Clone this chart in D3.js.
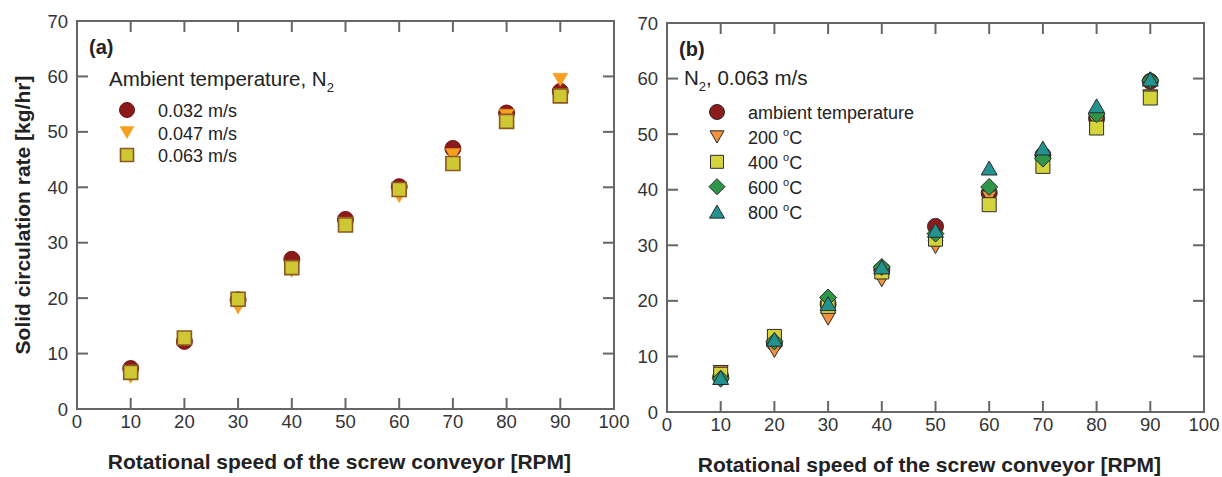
<!DOCTYPE html>
<html>
<head>
<meta charset="utf-8">
<script src="https://cdn.jsdelivr.net/npm/d3@7"></script>
<style>
  body { margin: 0; background: #fff; }
  svg text { font-family: "Liberation Sans", Arial, Helvetica, sans-serif; fill: #333; }
</style>
</head>
<body>
<div id="vis"></div>
<script>
var W = 1222, H = 477;

// data
var rpm = [10, 20, 30, 40, 50, 60, 70, 80, 90];
var xTicks = [0, 10, 20, 30, 40, 50, 60, 70, 80, 90, 100];
var yTicks = [0, 10, 20, 30, 40, 50, 60, 70];

// (a) ambient temperature, N2
var aLabels = ["0.032 m/s", "0.047 m/s", "0.063 m/s"];
var a032 = [7.3, 12.2, 19.7, 27.0, 34.2, 40.1, 47.0, 53.4, 57.3];
var a047 = [5.8, 12.6, 18.3, 24.9, 33.4, 38.4, 45.8, 52.9, 59.4];
var a063 = [6.6, 12.8, 19.8, 25.5, 33.2, 39.6, 44.3, 51.9, 56.5];

// (b) N2, 0.063 m/s
var bLabels = ["ambient temperature", "200", "400", "600", "800"];
var bAmb = [6.3, 12.4, 19.4, 25.6, 33.4, 39.4, 46.2, 52.8, 59.5];
var b200 = [7.2, 11.0, 16.8, 23.7, 29.7, 38.6, 44.6, 52.0, 56.8];
var b400 = [6.8, 13.6, 19.0, 25.2, 31.1, 37.3, 44.2, 51.1, 56.5];
var b600 = [6.0, 12.7, 20.6, 26.1, 32.1, 40.5, 45.6, 53.6, 59.7];
var b800 = [6.2, 13.1, 19.5, 26.1, 32.7, 43.9, 47.5, 55.1, 59.9];

var svg = d3.select("#vis").append("svg")
    .attr("width", W)
    .attr("height", H);

// marker outlines, centred on 0,0; s = nominal width in px
var markerPath = function(type, s) {
    var r = s / 2, p;
    if (type == "circle") {
        return "M " + r + " 0 A " + r + " " + r + " 0 1 1 " + (-r) + " 0 A " + r + " " + r + " 0 1 1 " + r + " 0 Z";
    } else if (type == "square") {
        p = [[-r, -r], [r, -r], [r, r], [-r, r]];
    } else if (type == "diamond") {
        p = [[0, -r], [r, 0], [0, r], [-r, 0]];
    } else if (type == "down") {
        var h = s * 0.87;
        p = [[-r, -h / 2], [r, -h / 2], [0, h / 2]];
    } else {
        var h2 = s * 0.87;
        p = [[-r, h2 / 2], [r, h2 / 2], [0, -h2 / 2]];
    }
    return "M " + p.map(function(d) { return d.join(" "); }).join(" L ") + " Z";
};

var drawPanel = function(cfg) {
    var x = d3.scaleLinear().domain([0, 100]).range([cfg.left, cfg.right]);
    var y = d3.scaleLinear().domain([0, 70]).range([cfg.bottom, cfg.top]);
    var g = svg.append("g");
    var tk = 11;
    var inner = function(v) { return v > 0 && v < 100; };

    // frame
    g.append("rect")
        .attr("x", cfg.left).attr("y", cfg.top)
        .attr("width", cfg.right - cfg.left).attr("height", cfg.bottom - cfg.top)
        .style("fill", "none").style("stroke", "#666").style("stroke-width", 2);

    // inward ticks on all sides
    var xt = xTicks.filter(inner);
    var yt = yTicks.filter(function(v) { return v > 0 && v < 70; });
    var tl = [];
    xt.forEach(function(v) {
        tl.push([x(v), cfg.bottom, x(v), cfg.bottom - tk]);
        tl.push([x(v), cfg.top, x(v), cfg.top + tk]);
    });
    yt.forEach(function(v) {
        tl.push([cfg.left, y(v), cfg.left + tk, y(v)]);
        tl.push([cfg.right, y(v), cfg.right - tk, y(v)]);
    });
    g.selectAll("line.tick").data(tl).enter().append("line")
        .attr("x1", function(d) { return d[0]; }).attr("y1", function(d) { return d[1]; })
        .attr("x2", function(d) { return d[2]; }).attr("y2", function(d) { return d[3]; })
        .style("stroke", "#666").style("stroke-width", 2);

    // tick labels
    g.selectAll("text.xl").data(xTicks).enter().append("text")
        .attr("x", function(d) { return x(d); })
        .attr("y", cfg.bottom + 19)
        .attr("text-anchor", "middle")
        .style("font-size", "18.5px")
        .text(function(d) { return d; });
    g.selectAll("text.yl").data(yTicks).enter().append("text")
        .attr("x", cfg.left - 9)
        .attr("y", function(d) { return y(d) + 6.5; })
        .attr("text-anchor", "end")
        .style("font-size", "18.5px")
        .text(function(d) { return d; });

    // axis title
    g.append("text")
        .attr("x", (cfg.left + cfg.right) / 2 - 6)
        .attr("y", cfg.bottom + 60)
        .attr("text-anchor", "middle")
        .style("font-size", "21px").style("font-weight", "bold").style("fill", "#222")
        .text("Rotational speed of the screw conveyor [RPM]");

    // panel letter
    g.append("text")
        .attr("x", cfg.left + 12).attr("y", cfg.top + 33)
        .style("font-size", "20px").style("font-weight", "bold").style("fill", "#222")
        .text(cfg.letter);

    // data
    cfg.series.forEach(function(s) {
        g.selectAll(null).data(s.values).enter().append("path")
            .attr("transform", function(d, i) { return "translate(" + x(rpm[i]) + "," + y(d) + ")"; })
            .attr("d", markerPath(s.shape, s.size))
            .style("fill", s.fill).style("stroke", s.stroke).style("stroke-width", s.sw);
    });

    // legend
    var lg = g.append("g");
    var t = lg.append("text")
        .attr("x", cfg.legX).attr("y", cfg.legY)
        .style("font-size", cfg.legTitleSize).style("fill", "#222");
    cfg.legTitle(t);
    cfg.series.forEach(function(s, i) {
        var cy = cfg.rowY + i * cfg.rowGap;
        lg.append("path")
            .attr("transform", "translate(" + cfg.markX + "," + cy + ")")
            .attr("d", markerPath(s.shape, s.size - 1))
            .style("fill", s.fill).style("stroke", s.stroke).style("stroke-width", s.sw);
        var lt = lg.append("text")
            .attr("x", cfg.textX).attr("y", cy + 7)
            .style("font-size", "18px").style("fill", "#222");
        if (s.deg) {
            lt.append("tspan").text(s.label + " ");
            lt.append("tspan").attr("dy", -8).style("font-size", "11px").text("o");
            lt.append("tspan").attr("dy", 8).text("C");
        } else {
            lt.text(s.label);
        }
    });
};

drawPanel({
    left: 77, right: 614, top: 21, bottom: 409, letter: "(a)",
    legX: 109, legY: 86, legTitleSize: "20.5px",
    legTitle: function(t) {
        t.append("tspan").text("Ambient temperature, N");
        t.append("tspan").attr("dy", 6).style("font-size", "13px").text("2");
    },
    markX: 127, textX: 158, rowY: 110, rowGap: 22.5,
    series: [
        {label: aLabels[0], values: a032, shape: "circle", size: 16, fill: "#8c1a1a", stroke: "#701313", sw: 1},
        {label: aLabels[1], values: a047, shape: "down", size: 15, fill: "#f5a01e", stroke: "#f19a24", sw: 0.5},
        {label: aLabels[2], values: a063, shape: "square", size: 14, fill: "#cfc734", stroke: "#8a5a20", sw: 1.6}
    ]
});

drawPanel({
    left: 667, right: 1204, top: 23, bottom: 412, letter: "(b)",
    legX: 684, legY: 85, legTitleSize: "20.5px",
    legTitle: function(t) {
        t.append("tspan").text("N");
        t.append("tspan").attr("dy", 6).style("font-size", "13px").text("2");
        t.append("tspan").attr("dy", -6).text(", 0.063 m/s");
    },
    markX: 717, textX: 748, rowY: 112, rowGap: 24.9,
    series: [
        {label: bLabels[0], values: bAmb, shape: "circle", size: 16, fill: "#8c1c1c", stroke: "#2b2b2b", sw: 1},
        {label: bLabels[1], values: b200, shape: "down", size: 15, fill: "#f4913a", stroke: "#2b2b2b", sw: 1, deg: true},
        {label: bLabels[2], values: b400, shape: "square", size: 14, fill: "#d6d43c", stroke: "#2b2b2b", sw: 1, deg: true},
        {label: bLabels[3], values: b600, shape: "diamond", size: 17, fill: "#2f9548", stroke: "#2b2b2b", sw: 1, deg: true},
        {label: bLabels[4], values: b800, shape: "up", size: 16, fill: "#23938f", stroke: "#2b2b2b", sw: 1, deg: true}
    ]
});

// y axis title (left panel only)
svg.append("text")
    .attr("transform", "translate(30,215) rotate(-90)")
    .attr("text-anchor", "middle")
    .style("font-size", "21px").style("font-weight", "bold").style("fill", "#222")
    .text("Solid circulation rate [kg/hr]");
</script>
</body>
</html>
